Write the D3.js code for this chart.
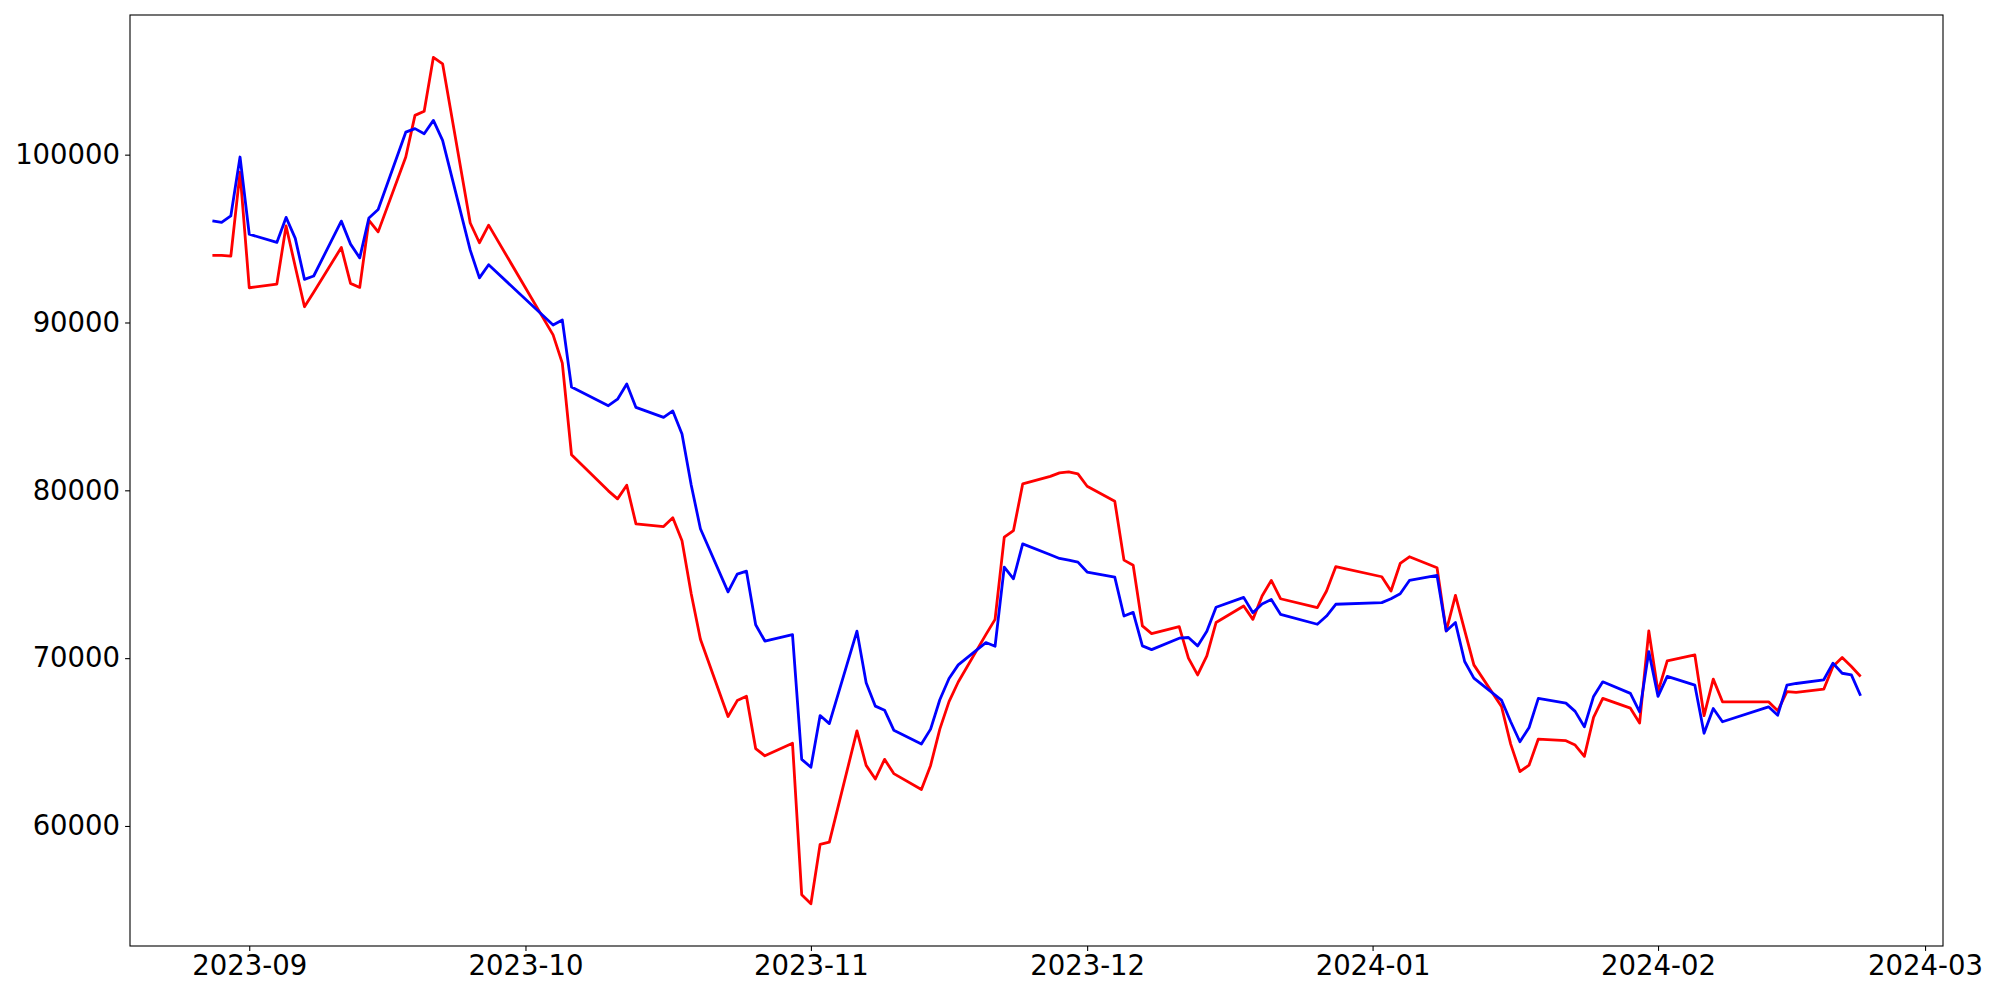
<!DOCTYPE html>
<html>
<head>
<meta charset="utf-8">
<script src="https://cdn.jsdelivr.net/npm/d3@7"></script>
<style>
  html, body { margin: 0; padding: 0; background: #fff; }
  svg { display: block; }
  .tick text { font-family: "DejaVu Sans", sans-serif; font-size: 27.5px; fill: #000; }
</style>
</head>
<body>
<svg id="chart" width="2000" height="1000"></svg>
<script>
// ---- data ----
const dates = [
  "2023-08-28","2023-08-29","2023-08-30","2023-08-31",
  "2023-09-01","2023-09-04","2023-09-05","2023-09-06","2023-09-07","2023-09-08","2023-09-11","2023-09-12","2023-09-13","2023-09-14","2023-09-15","2023-09-18","2023-09-19","2023-09-20","2023-09-21","2023-09-22","2023-09-25","2023-09-26","2023-09-27",
  "2023-10-04","2023-10-05","2023-10-06","2023-10-10","2023-10-11","2023-10-12","2023-10-13","2023-10-16","2023-10-17","2023-10-18","2023-10-19","2023-10-20","2023-10-23","2023-10-24","2023-10-25","2023-10-26","2023-10-27","2023-10-30","2023-10-31",
  "2023-11-01","2023-11-02","2023-11-03","2023-11-06","2023-11-07","2023-11-08","2023-11-09","2023-11-10","2023-11-13","2023-11-14","2023-11-15","2023-11-16","2023-11-17","2023-11-20","2023-11-21","2023-11-22","2023-11-23","2023-11-24","2023-11-27","2023-11-28","2023-11-29","2023-11-30",
  "2023-12-01","2023-12-04","2023-12-05","2023-12-06","2023-12-07","2023-12-08","2023-12-11","2023-12-12","2023-12-13","2023-12-14","2023-12-15","2023-12-18","2023-12-19","2023-12-20","2023-12-21","2023-12-22","2023-12-26","2023-12-27","2023-12-28",
  "2024-01-02","2024-01-03","2024-01-04","2024-01-05","2024-01-08","2024-01-09","2024-01-10","2024-01-11","2024-01-12","2024-01-15","2024-01-16","2024-01-17","2024-01-18","2024-01-19","2024-01-22","2024-01-23","2024-01-24","2024-01-25","2024-01-26","2024-01-29","2024-01-30","2024-01-31",
  "2024-02-01","2024-02-02","2024-02-05","2024-02-06","2024-02-07","2024-02-08","2024-02-13","2024-02-14","2024-02-15","2024-02-16","2024-02-19","2024-02-20","2024-02-21","2024-02-22","2024-02-23"
];

const redValues = [
  94000, 94000, 93950, 98950,
  92070, 92290, 95750, 93320, 90940, 91800, 94470, 92330, 92090, 96090, 95400, 99860, 102340, 102590, 105800, 105410, 95930, 94750, 95800,
  89260, 87580, 82120, 79970, 79490, 80300, 78000, 77840, 78370, 76990, 73840, 71130, 66520, 67470, 67730, 64610, 64180, 64930, 55900,
  55370, 58910, 59040, 65670, 63610, 62800, 63970, 63120, 62170, 63610, 65770, 67410, 68580, 71400, 72310, 77210, 77600, 80380, 80830, 81040, 81100, 80980,
  80240, 79350, 75840, 75540, 71920, 71460, 71880, 70000, 69000, 70130, 72120, 73110, 72310, 73700, 74630, 73540, 73010, 74000, 75450,
  74850, 74000, 75640, 76040, 75390, 71620, 73740, 71660, 69600, 67120, 64880, 63240, 63630, 65180, 65080, 64820, 64150, 66470, 67600, 67020, 66130, 71620,
  68000, 69840, 70190, 66570, 68750, 67400, 67400, 66860, 68010, 67960, 68150, 69500, 70040, 69500, 68910
];

const blueValues = [
  96050, 95960, 96350, 99860,
  95260, 94770, 96260, 95010, 92570, 92770, 96040, 94670, 93850, 96230, 96730, 101340, 101550, 101250, 102040, 100850, 94310, 92660, 93440,
  89850, 90150, 86150, 85040, 85430, 86340, 84940, 84350, 84730, 83350, 80320, 77710, 73950, 75010, 75180, 71990, 71020, 71400, 63970,
  63500, 66580, 66100, 71610, 68530, 67140, 66900, 65710, 64880, 65770, 67520, 68790, 69600, 70930, 70710, 75420, 74730, 76810, 76160, 75940, 75840, 75720,
  75130, 74830, 72510, 72730, 70730, 70510, 71190, 71230, 70730, 71600, 73030, 73620, 72710, 73230, 73500, 72610, 72020, 72510, 73210,
  73310, 73540, 73840, 74630, 74930, 71620, 72120, 69800, 68810, 67500, 66210, 65020, 65870, 67600, 67320, 66830, 65910, 67720, 68590, 67900, 66800, 70390,
  67720, 68910, 68390, 65520, 67000, 66210, 67100, 66600, 68390, 68490, 68710, 69700, 69100, 69000, 67760
];

const yTickValues = [60000, 70000, 80000, 90000, 100000];
const xTickFormat = "%Y-%m";

// ---- drawing ----
const W = 2000, H = 1000;
const margin = { left: 130, top: 15, right: 57, bottom: 54 };
const iw = W - margin.left - margin.right;
const ih = H - margin.top - margin.bottom;

const parse = d3.utcParse("%Y-%m-%d");
const t = dates.map(parse);
const series = [
  { color: "#ff0000", values: redValues },
  { color: "#0000ff", values: blueValues }
];

// matplotlib-style 5% margins
const tExt = d3.extent(t);
const tPad = (tExt[1] - tExt[0]) * 0.05;
const allV = redValues.concat(blueValues);
const vExt = d3.extent(allV);
const vPad = (vExt[1] - vExt[0]) * 0.05;

const x = d3.scaleUtc()
  .domain([new Date(+tExt[0] - tPad), new Date(+tExt[1] + tPad)])
  .range([0, iw]);
const y = d3.scaleLinear()
  .domain([vExt[0] - vPad, vExt[1] + vPad])
  .range([ih, 0]);

const svg = d3.select("#chart");
svg.append("rect").attr("width", W).attr("height", H).attr("fill", "#fff");
const g = svg.append("g").attr("transform", `translate(${margin.left},${margin.top})`);

const line = d3.line()
  .x((d, i) => x(t[i]))
  .y(d => y(d));

series.forEach(s => {
  g.append("path")
    .datum(s.values)
    .attr("fill", "none")
    .attr("stroke", s.color)
    .attr("stroke-width", 2.8)
    .attr("stroke-linejoin", "round")
    .attr("d", line);
});

const xAxis = d3.axisBottom(x)
  .ticks(d3.utcMonth.every(1))
  .tickFormat(d3.utcFormat(xTickFormat))
  .tickSize(4.9)
  .tickPadding(5);
const yAxis = d3.axisLeft(y)
  .tickValues(yTickValues)
  .tickFormat(d3.format("d"))
  .tickSize(4.9)
  .tickPadding(5);

const gx = g.append("g").attr("transform", `translate(0,${ih})`).call(xAxis);
const gy = g.append("g").call(yAxis);
[gx, gy].forEach(a => {
  a.select(".domain").remove();
  a.selectAll(".tick line").attr("stroke", "#000").attr("stroke-width", 1.1);
  a.selectAll(".tick text").attr("font-family", null).attr("font-size", null);
});

g.append("rect")
  .attr("x", 0).attr("y", 0)
  .attr("width", iw).attr("height", ih)
  .attr("fill", "none")
  .attr("stroke", "#000")
  .attr("stroke-width", 1.1);
</script>
</body>
</html>
